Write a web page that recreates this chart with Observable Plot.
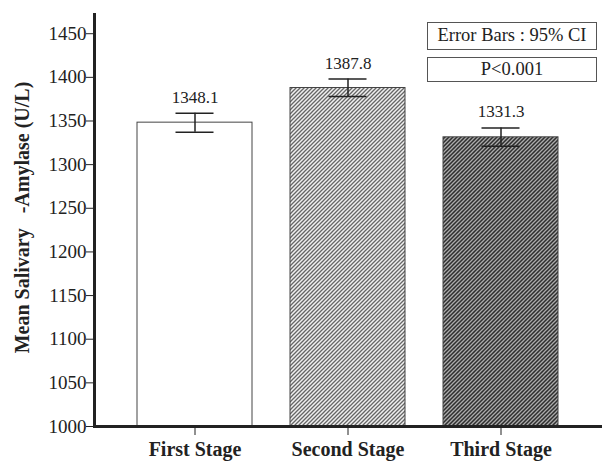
<!DOCTYPE html>
<html>
<head>
<meta charset="utf-8">
<script src="https://cdn.jsdelivr.net/npm/d3@7"></script>
<script src="https://cdn.jsdelivr.net/npm/@observablehq/plot@0.6"></script>
<style>
  body { margin: 0; background: #fff; }
  #wrap { position: relative; width: 602px; height: 461px; }
  .box { position: absolute; border: 1.5px solid #555; background: #fff; font-family: "Liberation Serif", serif; font-size: 18.5px; color: #222; text-align: center; box-sizing: border-box; }
</style>
</head>
<body>
<div id="wrap"></div>
<script>
const stages = ["First Stage", "Second Stage", "Third Stage"];
const means = [1348.1, 1387.8, 1331.3];
const ciLow = [1337, 1378, 1321];
const ciHigh = [1359, 1398, 1342];
const yTicks = [1000, 1050, 1100, 1150, 1200, 1250, 1300, 1350, 1400, 1450];
const legendLines = ["Error Bars : 95% CI", "P<0.001"];
const yLabel = "Mean Salivary   -Amylase (U/L)";

const data = stages.map((s, i) => ({stage: s, mean: means[i], lo: ciLow[i], hi: ciHigh[i], label: means[i].toFixed(1)}));

const serif = "Liberation Serif, serif";
const plot = Plot.plot({
  width: 602,
  height: 461,
  marginLeft: 94,
  marginRight: 0,
  marginTop: 14,
  marginBottom: 35,
  style: {fontFamily: serif, color: "#222", background: "white"},
  x: {domain: stages, paddingInner: 0.248, paddingOuter: 0.284, label: null},
  y: {domain: [1000, 1472], label: null},
  color: {domain: stages, range: ["white", "url(#hatchLight)", "url(#hatchDark)"]},
  marks: [
    Plot.barY(data, {x: "stage", y1: 1000, y2: "mean", fill: "stage", stroke: "#444", strokeWidth: 1}),
    Plot.ruleX(data, {x: "stage", y1: "lo", y2: "hi", stroke: "#222", strokeWidth: 1.5}),
    Plot.tickY(data, {x: "stage", y: "lo", stroke: "#222", strokeWidth: 1.5, insetLeft: 38.5, insetRight: 38.5}),
    Plot.tickY(data, {x: "stage", y: "hi", stroke: "#222", strokeWidth: 1.5, insetLeft: 38.5, insetRight: 38.5}),
    Plot.text(data, {x: "stage", y: "hi", text: "label", dy: -16, fontSize: 17, fill: "#222"}),
    Plot.axisY({ticks: yTicks, tickFormat: "d", tickSize: 8, tickPadding: 0, fontSize: 19, label: null, stroke: "#222"}),
    Plot.axisX({tickSize: 9, tickPadding: 6, fontSize: 20, fontWeight: "bold", label: null, stroke: "#222"}),
    Plot.frame({anchor: "left", stroke: "#222", strokeWidth: 3}),
    Plot.frame({anchor: "bottom", stroke: "#222", strokeWidth: 3}),
    Plot.text([yLabel], {frameAnchor: "left", text: d => d, rotate: -90, textAnchor: "middle", dx: -72, dy: -3, fontSize: 20, fontWeight: "bold", fill: "#222"})
  ]
});

// hatch pattern definitions (diagonal "/" stripes, 4px period)
const svg = d3.select(plot);
const defs = svg.insert("defs", ":first-child");
function hatch(id, bg, line) {
  const p = defs.append("pattern").attr("id", id).attr("patternUnits", "userSpaceOnUse")
    .attr("width", 4).attr("height", 4);
  p.append("rect").attr("width", 4).attr("height", 4).attr("fill", bg);
  p.append("path").attr("d", "M-1,1 L1,-1 M0,4 L4,0 M3,5 L5,3")
    .attr("stroke", line).attr("stroke-width", 1.3);
}
hatch("hatchLight", "#f0f0f0", "#666");
hatch("hatchDark", "#2e2e2e", "#ababab");

const wrap = document.getElementById("wrap");
wrap.appendChild(plot);
const boxes = [{top: 22, h: 28}, {top: 57, h: 25}];
legendLines.forEach((t, i) => {
  const d = document.createElement("div");
  d.className = "box";
  d.textContent = t;
  d.style.left = "427px";
  d.style.width = "170px";
  d.style.top = boxes[i].top + "px";
  d.style.height = boxes[i].h + "px";
  d.style.lineHeight = (boxes[i].h - 3) + "px";
  wrap.appendChild(d);
});
</script>
</body>
</html>
